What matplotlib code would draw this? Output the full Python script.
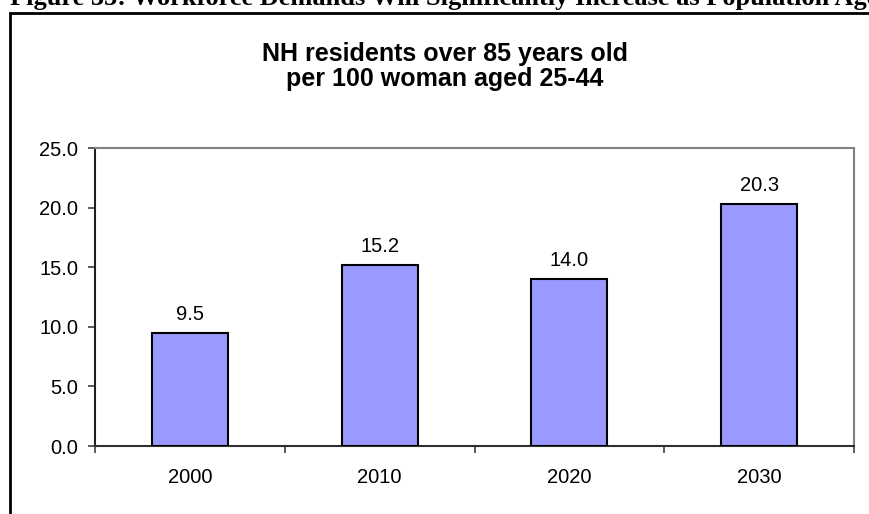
import matplotlib
matplotlib.use("Agg")
import matplotlib.pyplot as plt
from matplotlib.patches import Rectangle

years = ["2000", "2010", "2020", "2030"]
ratio = [9.5, 15.2, 14.0, 20.3]
y_ticks = [0, 5, 10, 15, 20, 25]

W, H = 869, 514
fig = plt.figure(figsize=(W / 100, H / 100), dpi=100)
plt.rcParams["font.family"] = ["Liberation Sans", "DejaVu Sans"]

# caption above the chart box (partly cut off at the top of the page)
fig.text(10 / W, 1 - 5.5 / H,
         "Figure 35: Workforce Demands Will Significantly Increase as Population Ages",
         family="Liberation Serif", weight="bold", fontsize=19,
         ha="left", va="baseline")

# chart border
box = Rectangle((10 / W, -0.1), 1.0, 1 - 12.5 / H + 0.1, transform=fig.transFigure,
                fill=False, edgecolor="black", linewidth=2, clip_on=False)
fig.patches.append(box)

fig.text(445 / W, 1 - 61 / H, "NH residents over 85 years old",
         weight="bold", fontsize=18, ha="center", va="baseline")
fig.text(445 / W, 1 - 86 / H, "per 100 woman aged 25-44",
         weight="bold", fontsize=18, ha="center", va="baseline")

ax = fig.add_axes([95 / W, 1 - 446 / H, (854 - 95) / W, (446 - 148) / H])
x = list(range(len(years)))
bars = ax.bar(x, ratio, width=0.4, color="#9999FF", edgecolor="black", linewidth=1.5, zorder=3)
for xi, v in zip(x, ratio):
    ax.annotate(f"{v:.1f}", (xi, v), xytext=(0, 9.4), textcoords="offset points",
                ha="center", va="baseline", fontsize=14.5)

ax.set_xlim(-0.5, len(years) - 0.5)
ax.set_ylim(0, 25)
ax.set_yticks(y_ticks)
ax.set_yticklabels([f"{t:.1f}" for t in y_ticks])
ax.set_xticks(x)
ax.set_xticklabels(years)
ax.set_xticks([i - 0.5 for i in range(len(years) + 1)], minor=True)
ax.tick_params(axis="x", which="major", length=0, pad=16, labelsize=14.5)
ax.tick_params(axis="x", which="minor", length=5, width=1.2, color="#404040")
ax.tick_params(axis="y", length=5, width=1.2, color="#404040", pad=7, labelsize=14.5)

for side in ("top", "right"):
    ax.spines[side].set_color("#808080")
    ax.spines[side].set_linewidth(1.5)
ax.spines["left"].set_color("#202020")
ax.spines["bottom"].set_color("#303030")
ax.spines["left"].set_linewidth(1.5)
ax.spines["bottom"].set_linewidth(1.5)

fig.savefig("out.png", dpi=100)
